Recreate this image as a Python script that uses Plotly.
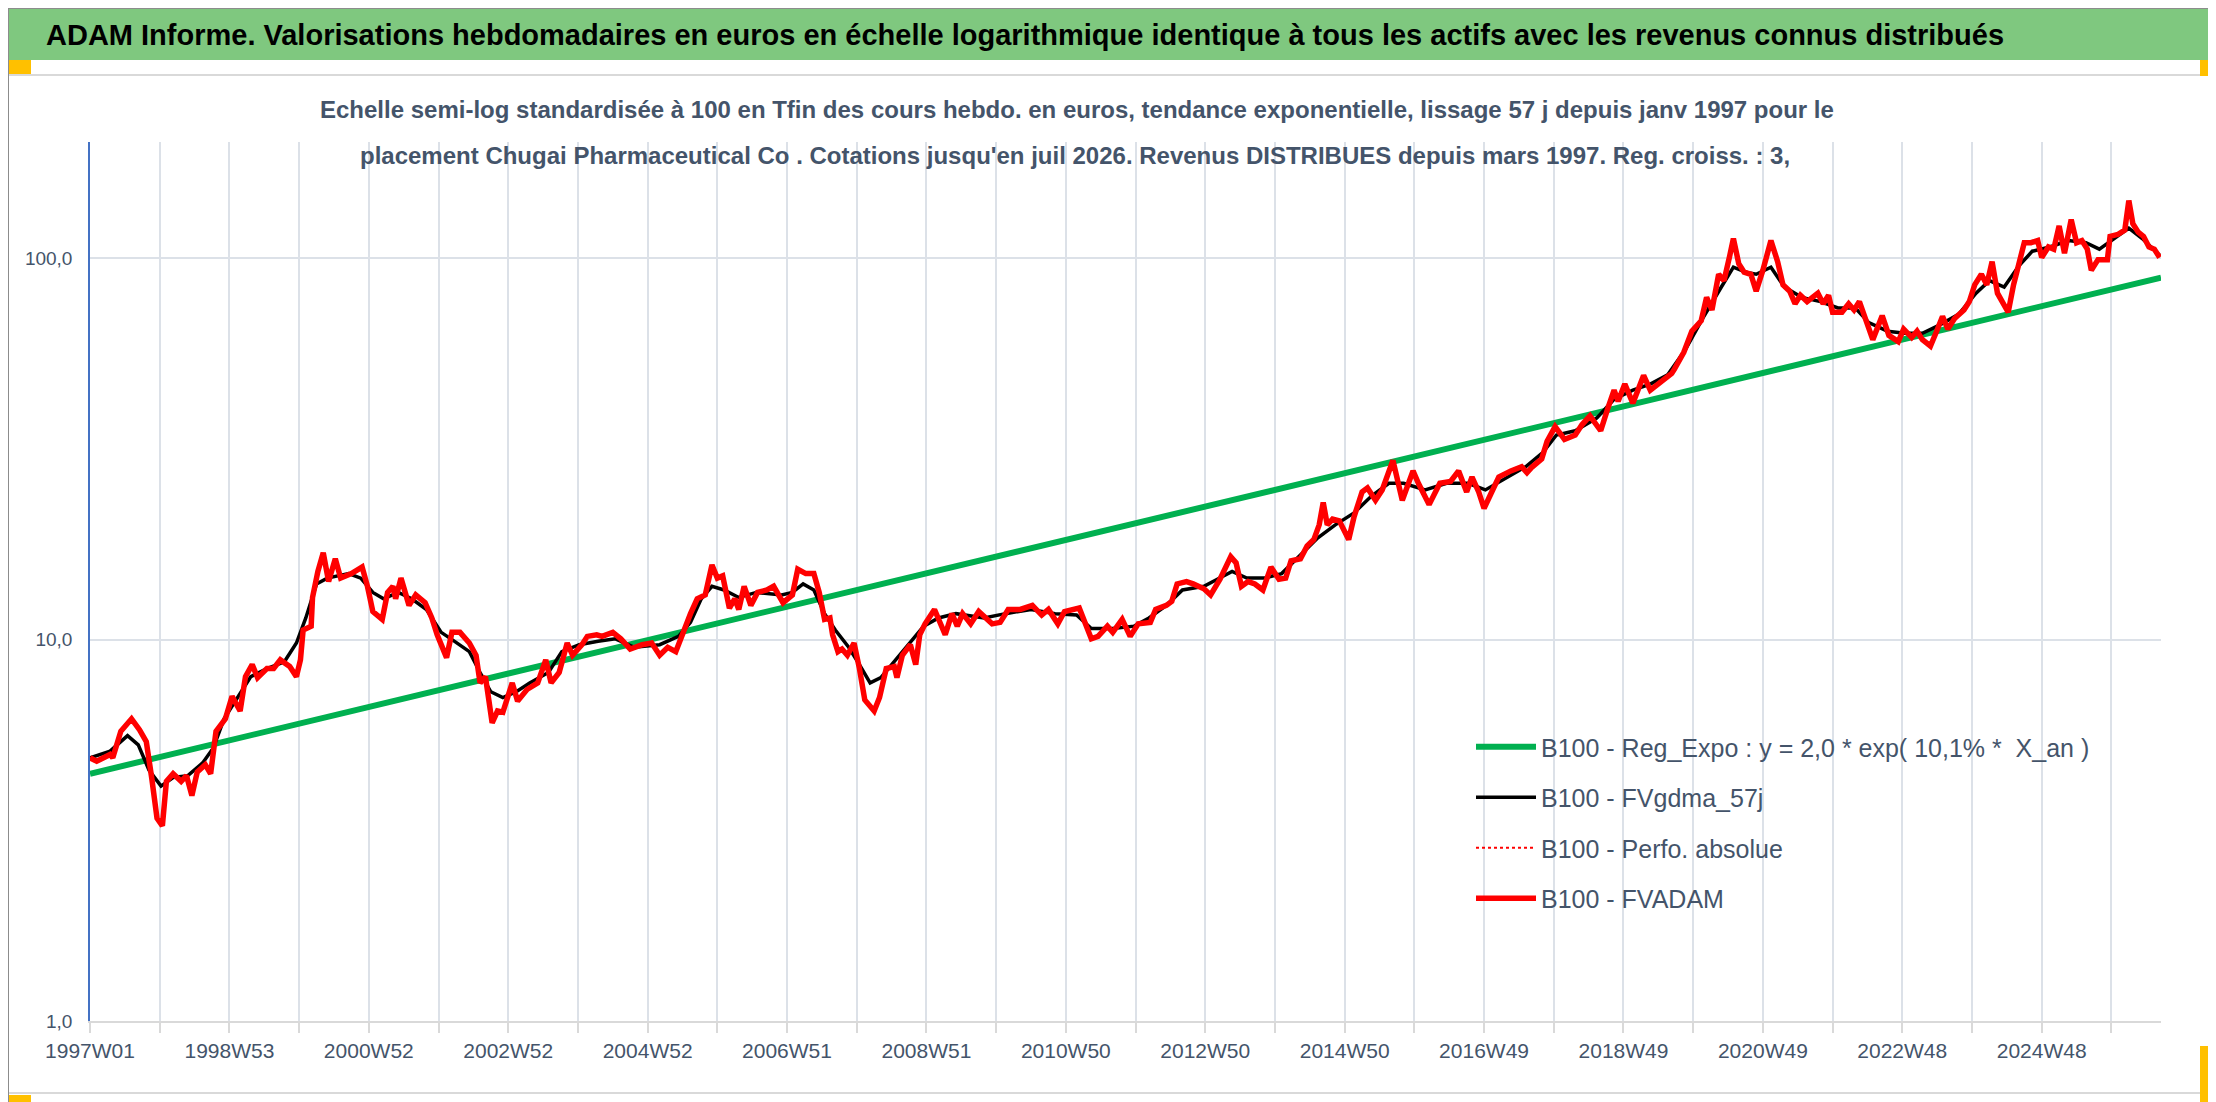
import plotly.graph_objects as go

# Weekly valuations, base 100, x = week index from 1997W01
fvadam_weeks = [0, 5, 15, 17, 23, 31, 37, 42, 46, 50, 54, 57, 62, 68, 72, 76, 80, 86, 90, 94,
                101, 106, 112, 116, 121, 125, 132, 137, 142, 149, 154, 157, 159, 165, 166, 170, 174, 178, 183, 187,
                195, 203, 207, 211, 218, 222, 226, 228, 232, 238, 243, 250, 255, 259, 266, 270, 276, 283, 288, 291,
                295, 300, 304, 308, 315, 319, 326, 334, 340, 344, 350, 356, 360, 367, 371, 378, 382, 390, 396, 403,
                412, 419, 425, 431, 437, 441, 448, 453, 459, 464, 468, 472, 477, 481, 484, 488, 493, 498, 505, 510,
                517, 524, 528, 534, 540, 544, 548, 552, 554, 558, 561, 565, 570, 574, 578, 585, 589, 594, 600, 602,
                606, 612, 616, 619, 623, 630, 634, 638, 643, 647, 651, 657, 663, 673, 679, 685, 694, 703, 710, 715,
                722, 727, 738, 742, 747, 752, 759, 763, 770, 776, 782, 791, 795, 803, 807, 811, 818, 823, 831, 836,
                843, 851, 855, 859, 864, 869, 875, 881, 887, 892, 896, 903, 908, 913, 917, 920, 923, 927, 932, 939,
                943, 949, 953, 959, 964, 972, 979, 987, 991, 999, 1007, 1015, 1021, 1027, 1031, 1036, 1040, 1045, 1051, 1060,
                1068, 1072, 1076, 1083, 1087, 1093, 1100, 1108, 1113, 1119, 1127, 1132, 1137, 1140, 1145, 1151, 1159, 1164, 1172, 1180,
                1182, 1189, 1195, 1202, 1206, 1210, 1215, 1219, 1223, 1226, 1230, 1234, 1239, 1243, 1248, 1254, 1259, 1263, 1268, 1272,
                1276, 1281, 1285, 1289, 1293, 1297, 1300, 1307, 1312, 1316, 1320, 1324, 1330, 1337, 1342, 1349, 1353, 1359, 1363, 1367,
                1373, 1377, 1382, 1386, 1391, 1398, 1402, 1406, 1411, 1415, 1419, 1423, 1427, 1431, 1435, 1439, 1443, 1448, 1453, 1456,
                1461, 1465, 1469, 1473, 1478, 1482, 1486, 1490, 1493, 1498, 1505, 1507, 1513, 1518, 1521, 1524, 1528, 1532, 1536, 1540,
                1544]
fvadam = [4.9, 4.8, 5.0, 4.9, 5.75, 6.2, 5.8, 5.4, 4.35, 3.4, 3.25, 4.25, 4.45, 4.25, 4.4, 3.9, 4.5, 4.7, 4.45, 5.75,
          6.2, 7.1, 6.5, 8.0, 8.6, 7.95, 8.4, 8.4, 8.85, 8.5, 8.0, 8.85, 10.6, 10.85, 12.9, 15.1, 16.9, 14.2, 16.3, 14.5,
          14.9, 15.5, 13.8, 11.85, 11.3, 13.3, 13.8, 12.8, 14.5, 12.3, 13.1, 12.5, 11.4, 10.3, 8.97, 10.45, 10.45, 9.8, 9.1, 7.7,
          8.0, 6.05, 6.5, 6.45, 7.7, 6.9, 7.4, 7.7, 8.85, 7.7, 8.2, 9.8, 9.1, 9.7, 10.2, 10.3, 10.2, 10.45, 10.05, 9.45,
          9.7, 9.8, 9.1, 9.55, 9.3, 10.2, 11.7, 12.8, 13.1, 15.7, 14.5, 14.7, 12.1, 12.8, 12.0, 13.8, 12.3, 13.3, 13.5, 13.8,
          12.5, 13.1, 15.3, 14.9, 14.9, 13.3, 11.3, 11.4, 10.3, 9.3, 9.45, 9.1, 9.8, 8.4, 6.95, 6.5, 7.05, 8.4, 8.5, 7.95,
          9.1, 9.7, 8.6, 10.3, 11.0, 12.0, 11.1, 10.3, 11.7, 10.85, 11.7, 11.0, 11.85, 11.0, 11.1, 12.0, 12.0, 12.3, 11.6, 12.0,
          11.0, 11.85, 12.1, 11.1, 10.05, 10.2, 10.85, 10.45, 11.3, 10.2, 11.0, 11.1, 12.0, 12.3, 12.6, 14.0, 14.2, 14.0, 13.6, 13.1,
          14.4, 16.5, 15.9, 13.8, 14.2, 14.0, 13.5, 15.5, 14.4, 14.5, 16.1, 16.3, 17.6, 18.3, 20.0, 22.9, 20.0, 20.7, 20.5, 18.3,
          21.0, 24.4, 25.0, 23.2, 24.7, 29.5, 23.2, 27.7, 25.7, 22.6, 25.7, 26.0, 27.7, 24.4, 26.7, 24.4, 22.1, 24.1, 26.7, 27.7,
          28.4, 27.4, 28.4, 29.8, 33.1, 36.2, 33.5, 34.4, 36.6, 38.6, 35.3, 40.1, 45.1, 42.2, 46.8, 41.7, 49.3, 45.1, 47.5, 49.9,
          51.2, 56.7, 64.4, 68.6, 79.0, 73.2, 90.8, 87.4, 100.5, 112.7, 96.8, 92.0, 90.8, 82.0, 93.1, 111.3, 98.0, 85.2, 82.0, 76.0,
          80.0, 77.0, 79.0, 81.0, 76.0, 80.0, 72.2, 72.2, 76.0, 73.2, 77.0, 69.5, 61.2, 70.7, 62.8, 60.5, 65.2, 62.0, 64.4, 61.2,
          58.9, 63.6, 70.4, 65.2, 69.5, 73.2, 77.0, 85.2, 90.8, 85.2, 98.0, 81.0, 76.0, 72.2, 85.2, 95.5, 109.9, 109.9, 111.3, 100.5,
          107.1, 105.7, 121.6, 103.1, 126.3, 109.9, 111.3, 105.7, 93.1, 99.2, 99.2, 114.1, 115.6, 118.6, 141.7, 123.2, 117.1, 114.1, 107.1, 105.7,
          100.5]

# Perfo. absolue follows FVADAM (hidden under it in the reference)
perfo_weeks = fvadam_weeks
perfo = fvadam

fvgdma_weeks = [0, 15, 28, 36, 44, 53, 62, 73, 84, 92, 100, 110, 120, 132, 145, 154, 161, 169, 177, 193,
                202, 211, 219, 230, 240, 251, 262, 272, 283, 291, 299, 308, 318, 328, 342, 352, 365, 379, 392, 406,
                425, 439, 448, 456, 464, 473, 484, 497, 516, 524, 532, 540, 548, 556, 566, 574, 582, 590, 601, 612,
                622, 633, 646, 667, 683, 702, 720, 736, 747, 763, 779, 790, 803, 815, 831, 841, 852, 863, 876, 889,
                903, 916, 929, 943, 956, 969, 980, 996, 1012, 1028, 1041, 1055, 1071, 1084, 1094, 1108, 1124, 1137, 1151, 1164,
                1177, 1190, 1203, 1217, 1226, 1235, 1243, 1254, 1264, 1277, 1291, 1304, 1317, 1327, 1341, 1354, 1367, 1380, 1394, 1407,
                1417, 1428, 1439, 1449, 1462, 1476, 1489, 1499, 1510, 1521, 1531, 1544]
fvgdma = [4.9, 5.1, 5.6, 5.3, 4.55, 4.13, 4.35, 4.4, 4.75, 5.2, 6.2, 7.05, 8.0, 8.4, 8.75, 9.8, 11.4, 14.0, 14.5, 14.9,
          14.5, 13.3, 12.8, 13.3, 12.8, 12.0, 10.45, 9.9, 9.3, 8.2, 7.3, 7.05, 7.3, 7.7, 8.2, 9.3, 9.7, 9.9, 10.05, 9.55,
          9.7, 10.2, 11.1, 12.8, 13.8, 13.5, 12.9, 13.3, 13.1, 13.3, 14.0, 13.5, 11.7, 10.6, 9.55, 8.6, 7.7, 7.95, 8.85, 9.8,
          10.85, 11.4, 11.7, 11.4, 11.7, 12.0, 11.7, 11.6, 10.7, 10.7, 10.85, 11.4, 12.3, 13.5, 13.8, 14.4, 15.1, 14.5, 14.5, 14.9,
          16.7, 18.5, 20.0, 21.5, 23.8, 25.7, 25.7, 24.7, 25.7, 25.7, 24.7, 26.4, 28.4, 31.0, 34.4, 35.3, 38.1, 42.7, 45.1, 46.8,
          49.5, 57.5, 69.5, 84.1, 94.8, 92.0, 90.8, 94.8, 84.1, 79.0, 77.0, 74.1, 74.1, 67.8, 64.4, 63.6, 63.6, 66.9, 71.3, 81.0,
          87.4, 84.1, 95.5, 104.4, 107.1, 111.3, 109.9, 105.7, 112.7, 120.0, 112.7, 101.8]

# Exponential trend (straight on the log scale): first and last point
reg_weeks = [0, 1545]
reg_expo = [4.45, 89.0]

week_labels = ["1997W01", "1998W53", "2000W52", "2002W52", "2004W52", "2006W51", "2008W51", "2010W50",
               "2012W50", "2014W50", "2016W49", "2018W49", "2020W49", "2022W48", "2024W48"]

W, H = 2216, 1102
L, R, T, B = 82, 2153, 134, 1013
TXT = "#44546A"
FONT = "Liberation Sans, Arial, sans-serif"


def px(x):
    return (x - L) / (R - L)


def py(y):
    return (B - y) / (B - T)


fig = go.Figure()
fig.add_trace(go.Scatter(x=reg_weeks, y=reg_expo, mode="lines", legendgroup="a",
                         name="B100 - Reg_Expo : y = 2,0 * exp( 10,1% *  X_an )",
                         line=dict(color="#00B050", width=6)))
fig.add_trace(go.Scatter(x=fvgdma_weeks, y=fvgdma, mode="lines", legendgroup="b",
                         name="B100 - FVgdma_57j", line=dict(color="black", width=3.5)))
fig.add_trace(go.Scatter(x=perfo_weeks, y=perfo, mode="lines", legendgroup="c",
                         name="B100 - Perfo. absolue", line=dict(color="#FF0000", width=2, dash="dot")))
fig.add_trace(go.Scatter(x=fvadam_weeks, y=fvadam, mode="lines", legendgroup="d",
                         name="B100 - FVADAM", line=dict(color="#FF0000", width=5.5)))

grid_vals = list(range(0, 1509, 52))
grid_text = [week_labels[i // 2] if i % 2 == 0 else "" for i in range(len(grid_vals))]

fig.update_xaxes(range=[0, 1545], tickvals=grid_vals, ticktext=grid_text, showgrid=True,
                 gridcolor="#DCE1E8", gridwidth=2, showline=True, linecolor="#D9D9D9", linewidth=2,
                 ticks="outside", ticklen=10, tickcolor="#D9D9D9", tickwidth=2, zeroline=False,
                 tickfont=dict(family=FONT, size=21, color=TXT))
fig.update_yaxes(type="log", range=[0, 2.305], tickvals=[1, 10, 100], ticktext=["1,0", "10,0", "100,0"],
                 showgrid=True, gridcolor="#DCE1E8", gridwidth=2, showline=True, linecolor="#4472C4",
                 linewidth=1.5, ticks="", zeroline=False, ticklabelstandoff=12,
                 tickfont=dict(family=FONT, size=19, color=TXT))

shapes = [
    dict(type="rect", x0=px(0), x1=px(2213), y0=py(52), y1=py(0), fillcolor="#7FC87F", line_width=0),
    dict(type="rect", x0=px(0), x1=px(2208), y0=py(1085), y1=py(67), line=dict(color="#D9D9D9", width=2)),
    dict(type="rect", x0=px(0), x1=px(23), y0=py(66), y1=py(52), fillcolor="#FFC000", line_width=0),
    dict(type="rect", x0=px(2192), x1=px(2213), y0=py(68), y1=py(52), fillcolor="#FFC000", line_width=0),
    dict(type="rect", x0=px(0), x1=px(23), y0=py(1100), y1=py(1087), fillcolor="#FFC000", line_width=0),
    dict(type="rect", x0=px(2192), x1=px(2216), y0=py(1100), y1=py(1038), fillcolor="#FFC000", line_width=0),
    dict(type="rect", x0=px(0), x1=px(2216), y0=py(1102), y1=py(0), line=dict(color="#8C8C8C", width=2)),
]
for s in shapes:
    s.update(xref="paper", yref="paper", layer="below")

annotations = [
    dict(text="<b>ADAM Informe. Valorisations hebdomadaires en euros en échelle logarithmique identique "
              "à tous les actifs avec les revenus connus distribués</b>",
         x=px(36), y=py(27), xanchor="left", yanchor="middle",
         font=dict(family=FONT, size=29, color="black")),
    dict(text="<b>Echelle semi-log standardisée à 100 en Tfin des cours hebdo. en euros, tendance exponentielle, "
              "lissage 57 j depuis janv 1997 pour le</b>",
         x=px(1069), y=py(101), xanchor="center", yanchor="middle",
         font=dict(family=FONT, size=24, color=TXT)),
    dict(text="<b>placement Chugai Pharmaceutical Co . Cotations jusqu'en juil 2026. Revenus DISTRIBUES "
              "depuis mars 1997. Reg. croiss. : 3,</b>",
         x=px(1067), y=py(148), xanchor="center", yanchor="middle",
         font=dict(family=FONT, size=24, color=TXT)),
]
for a in annotations:
    a.update(xref="paper", yref="paper", showarrow=False)

fig.update_layout(
    width=W, height=H,
    margin=dict(l=L, r=W - R, t=T, b=H - B),
    paper_bgcolor="white", plot_bgcolor="white",
    shapes=shapes, annotations=annotations,
    legend=dict(x=px(1463), y=py(716), xanchor="left", yanchor="top", bgcolor="rgba(0,0,0,0)",
                font=dict(family=FONT, size=25, color=TXT), tracegroupgap=15, itemwidth=60),
    showlegend=True,
)

fig.write_html("out.html")
